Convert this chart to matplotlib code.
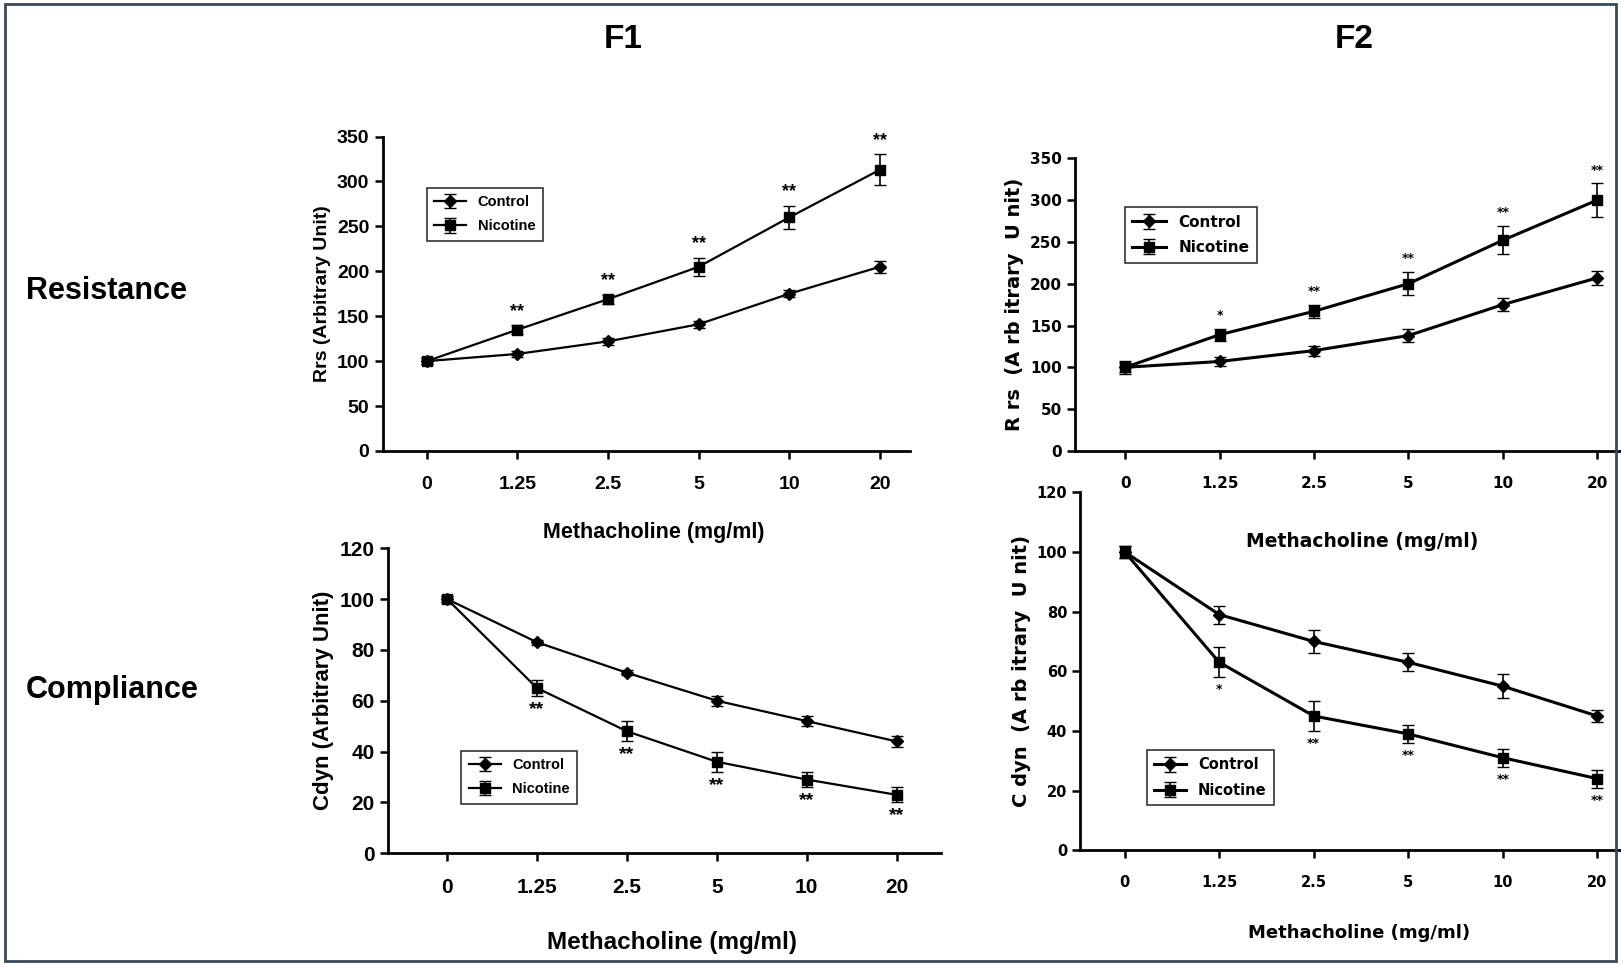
import matplotlib
matplotlib.use("Agg")
import matplotlib.pyplot as plt
from matplotlib.patches import Rectangle

doses = ["0", "1.25", "2.5", "5", "10", "20"]
f1_rrs_ctrl = [100, 108, 122, 141, 175, 205]
f1_rrs_ctrl_err = [3, 3, 4, 4, 4, 7]
f1_rrs_nic = [100, 135, 169, 205, 260, 313]
f1_rrs_nic_err = [3, 5, 5, 10, 13, 17]
f1_rrs_sig = ["", "**", "**", "**", "**", "**"]

f2_rrs_ctrl = [100, 107, 120, 138, 175, 207]
f2_rrs_ctrl_err = [5, 5, 6, 8, 8, 8]
f2_rrs_nic = [100, 139, 167, 200, 252, 300]
f2_rrs_nic_err = [8, 7, 8, 14, 17, 20]
f2_rrs_sig = ["", "*", "**", "**", "**", "**"]

f1_cdyn_ctrl = [100, 83, 71, 60, 52, 44]
f1_cdyn_ctrl_err = [1, 1, 1, 2, 2, 2]
f1_cdyn_nic = [100, 65, 48, 36, 29, 23]
f1_cdyn_nic_err = [1, 3, 4, 4, 3, 3]
f1_cdyn_sig = ["", "**", "**", "**", "**", "**"]

f2_cdyn_ctrl = [100, 79, 70, 63, 55, 45]
f2_cdyn_ctrl_err = [2, 3, 4, 3, 4, 2]
f2_cdyn_nic = [100, 63, 45, 39, 31, 24]
f2_cdyn_nic_err = [2, 5, 5, 3, 3, 3]
f2_cdyn_sig = ["", "*", "**", "**", "**", "**"]

W, H = 1568, 933
fig = plt.figure(figsize=(16.21, 9.65), dpi=100)
fig.patches.append(Rectangle((0.003, 0.004), 0.994, 0.992, transform=fig.transFigure,
                             fill=False, edgecolor="#3a4a5e", linewidth=2))

def rect(l, r, t, b):
    return [l / W, 1 - b / H, (r - l) / W, (b - t) / H]

REG = ["Liberation Sans", "DejaVu Sans"]
NAR = ["DejaVu Sans"]

def panel(r, xlim, ctrl, ce, nic, ne, sig, ymax, ystep, ylabel, fam, tfs, yfs, lfs, sfs, below, leg_bbox, sigoff, lw):
    ax = fig.add_axes(rect(*r))
    x = list(range(len(doses)))
    ax.errorbar(x, ctrl, yerr=ce, color="black", marker="D", ms=6, lw=lw,
                capsize=4, elinewidth=1.2, label="Control")
    ax.errorbar(x, nic, yerr=ne, color="black", marker="s", ms=7, lw=lw,
                capsize=4, elinewidth=1.2, label="Nicotine")
    for xi, v, e, s in zip(x, nic, ne, sig):
        if s:
            if below:
                ax.text(xi, v - e - sigoff, s, ha="center", va="top", fontsize=sfs, fontweight="bold", family=fam)
            else:
                ax.text(xi, v + e + sigoff, s, ha="center", va="bottom", fontsize=sfs, fontweight="bold", family=fam)
    ax.set_xlim(*xlim)
    ax.set_ylim(0, ymax)
    ax.set_yticks(range(0, ymax + 1, ystep))
    ax.set_xticks(x)
    ax.set_xticklabels(doses)
    for sp in ["top", "right"]:
        ax.spines[sp].set_visible(False)
    for sp in ["left", "bottom"]:
        ax.spines[sp].set_linewidth(2)
    ax.tick_params(width=1.8, length=6, labelsize=tfs)
    ax.tick_params(axis="x", pad=12)
    for lab in ax.get_xticklabels() + ax.get_yticklabels():
        lab.set_family(fam)
        lab.set_fontweight("bold")
    ax.set_ylabel(ylabel, fontsize=yfs, fontweight="bold", family=fam)
    leg = ax.legend(loc="upper left", bbox_to_anchor=leg_bbox, fancybox=False, edgecolor="black",
                    prop={"family": fam, "weight": "bold", "size": lfs}, handlelength=2.2,
                    borderpad=0.5, labelspacing=0.7)
    leg.get_frame().set_linewidth(1.2)
    return ax

panel((370, 880, 132, 436), (-0.49, 5.33), f1_rrs_ctrl, f1_rrs_ctrl_err, f1_rrs_nic, f1_rrs_nic_err,
      f1_rrs_sig, 350, 50, "Rrs (Arbitrary Unit)", REG, 14, 14, 10.5, 13, False, (0.07, 0.86), 6, 1.6)
panel((375, 910, 530, 825), (-0.66, 5.49), f1_cdyn_ctrl, f1_cdyn_ctrl_err, f1_cdyn_nic, f1_cdyn_nic_err,
      f1_cdyn_sig, 120, 20, "Cdyn (Arbitrary Unit)", REG, 15, 16, 10.5, 14, True, (0.12, 0.36), 2, 1.6)
panel((1040, 1620, 153, 436), (-0.53, 5.82), f2_rrs_ctrl, f2_rrs_ctrl_err, f2_rrs_nic, f2_rrs_nic_err,
      f2_rrs_sig, 350, 50, "R rs  (A rb itrary  U nit)", NAR, 11, 14, 11, 9, False, (0.07, 0.86), 8, 2.2)
panel((1045, 1620, 476, 822), (-0.47, 5.82), f2_cdyn_ctrl, f2_cdyn_ctrl_err, f2_cdyn_nic, f2_cdyn_nic_err,
      f2_cdyn_sig, 120, 20, "C dyn  (A rb itrary  U nit)", NAR, 10.5, 14, 10.5, 9, True, (0.10, 0.30), 2, 2.2)

def ft(x, y, s, fs, fam=REG, ha="center"):
    fig.text(x / W, 1 - y / H, s, ha=ha, va="center", fontsize=fs, fontweight="bold", family=fam)

ft(603, 38, "F1", 24)
ft(1310, 38, "F2", 24)
ft(25, 281, "Resistance", 22, ha="left")
ft(25, 667, "Compliance", 22, ha="left")
ft(632, 515, "Methacholine (mg/ml)", 15.5)
ft(650, 911, "Methacholine (mg/ml)", 17.5)
ft(1318, 524, "Methacholine (mg/ml)", 13.5, NAR)
ft(1315, 902, "Methacholine (mg/ml)", 13, NAR)

fig.savefig("out.png", dpi=100)
